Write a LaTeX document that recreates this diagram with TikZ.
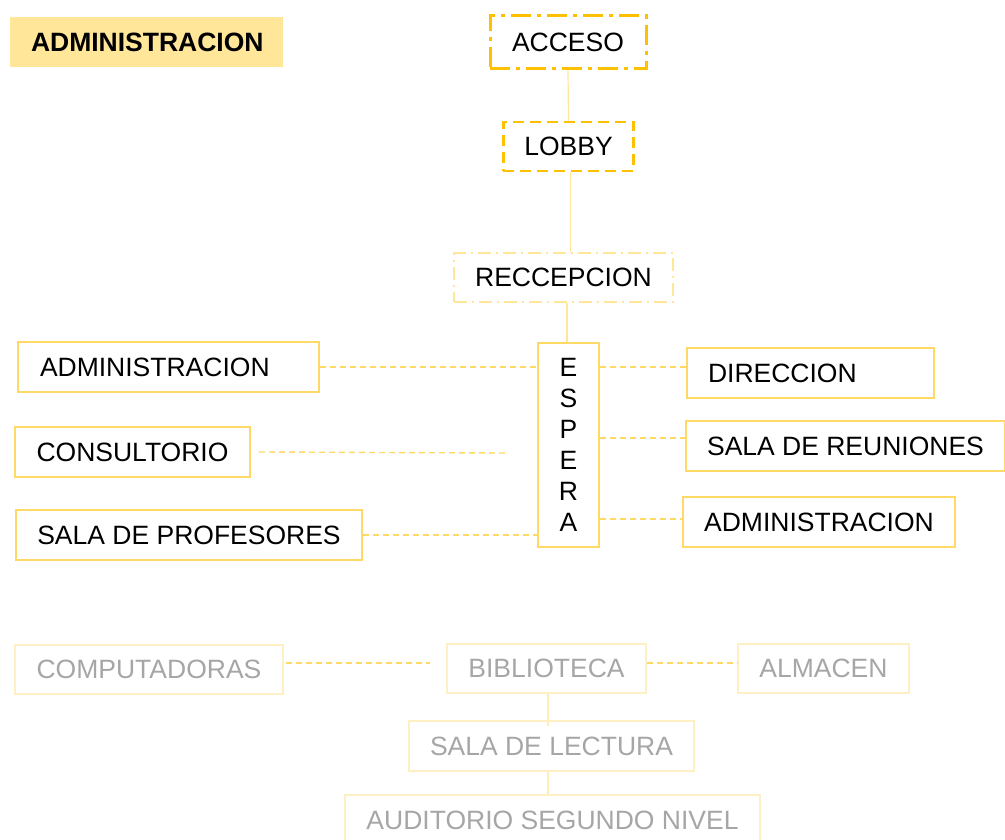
\documentclass[tikz,border=0pt]{standalone}
\usepackage{fontspec}
\setmainfont{Liberation Sans}
\usetikzlibrary{calc}
\definecolor{inkgold}{HTML}{FFC000}
\definecolor{roomgold}{HTML}{FFD966}
\definecolor{softgold}{HTML}{FFE699}
\definecolor{palegold}{HTML}{FFF0C4}
\definecolor{fadegrey}{HTML}{A6A6A6}
\tikzset{room/.style={rectangle,draw=roomgold,line width=2pt,minimum height=50pt,inner xsep=21pt,inner ysep=0pt,font=\fontsize{26.5}{31}\selectfont},upper/.style={room,minimum height=#1},upper/.default=49pt,faded/.style={room,draw=palegold,text=fadegrey,minimum height=49pt},link/.style={roomgold,line width=1.4pt,dash pattern=on 6pt off 4pt},spine/.style={softgold,line width=1.2pt},every picture/.style={line cap=butt}}

\begin{document}
\begin{tikzpicture}[x=1pt,y=-1pt]
\useasboundingbox (0,0) rectangle (1005,840);
\node[room,draw=none,fill=softgold,text width=231pt,align=left,font=\fontsize{26.5}{31}\selectfont\bfseries] (title) at (146.5,42) {ADMINISTRACION};
\node[room,draw=inkgold,line width=3pt,minimum width=156pt,minimum height=53pt,dash pattern=on 20pt off 6pt on 4pt off 6pt] (acceso) at (568,42.5) {ACCESO};
\node[upper,draw=inkgold,line width=2.5pt,minimum width=127pt,dash pattern=on 11pt off 6pt] (lobby) at (568.5,146.5) {LOBBY};
\node[upper,draw=softgold,line width=1.5pt,minimum width=217pt,dash pattern=on 13pt off 5pt on 2pt off 5pt] (recepcion) at (563.5,277.5) {RECCEPCION};
\node[room,minimum width=61pt,minimum height=204pt,align=center,inner xsep=0pt] (espera) at (568.5,445) {E\\S\\P\\E\\R\\A};
% left wing
\node[room,text width=257pt,align=left,inner xsep=22pt] (adminL) at (168.5,367) {ADMINISTRACION};
\node[room,minimum width=235pt] (consultorio) at (132.5,452) {CONSULTORIO};
\node[room,minimum width=344pt] (profesores) at (189,535) {SALA DE PROFESORES};
% right wing
\node[room,text width=205pt,align=left] (direccion) at (810.5,373) {DIRECCION};
\node[room,minimum width=317pt] (reuniones) at (845.5,446) {SALA DE REUNIONES};
\node[room,minimum width=270pt] (adminR) at (819,522) {ADMINISTRACION};
% second level
\node[faded,minimum width=268pt] (computadoras) at (149,669.5) {COMPUTADORAS};
\node[faded,minimum width=197pt] (biblioteca) at (546.5,668.5) {BIBLIOTECA};
\node[faded,minimum width=167pt] (almacen) at (823.5,668.5) {ALMACEN};
\node[faded,minimum width=283pt,minimum height=50pt] (lectura) at (551.5,746) {SALA DE LECTURA};
\node[faded,minimum width=415pt,minimum height=50pt] (auditorio) at (552.5,820) {AUDITORIO SEGUNDO NIVEL};
\coordinate (consend) at (505,453);
\coordinate (compend) at (430,663);
\draw[spine] (acceso.south) -- (lobby.north);
\draw[spine] ([xshift=2pt]lobby.south) -- ([xshift=2pt]lobby.south |- recepcion.north);
\draw[spine] ([xshift=-1.5pt]espera.north |- recepcion.south) -- ([xshift=-1.5pt]espera.north);
\draw[link] (adminL.east) -- (adminL.east -| espera.west);
\draw[link] ([xshift=8pt]consultorio.east) -- (consend);
\draw[link] (profesores.east) -- (profesores.east -| espera.west);
\draw[link] (espera.east |- adminL.east) -- (direccion.west |- adminL.east);
\draw[link] ($(reuniones.west -| espera.east)+(0,-8)$) -- ($(reuniones.west)+(0,-8)$);
\draw[link] ($(adminR.west -| espera.east)+(0,-3)$) -- ($(adminR.west)+(0,-3)$);
\draw[link] ($(computadoras.east)+(2,-6.5)$) -- (compend);
\draw[link] ($(biblioteca.east)+(0,-5.5)$) -- ($(almacen.west)+(0,-5.5)$);
\draw[spine,palegold!70!softgold] ([xshift=1.5pt]biblioteca.south) -- ([xshift=1.5pt,yshift=-6pt]biblioteca.south |- lectura.north);
\draw[spine,palegold!70!softgold] ([xshift=-3.5pt]lectura.south) -- ([xshift=-3.5pt]lectura.south |- auditorio.north);
\end{tikzpicture}
\end{document}
